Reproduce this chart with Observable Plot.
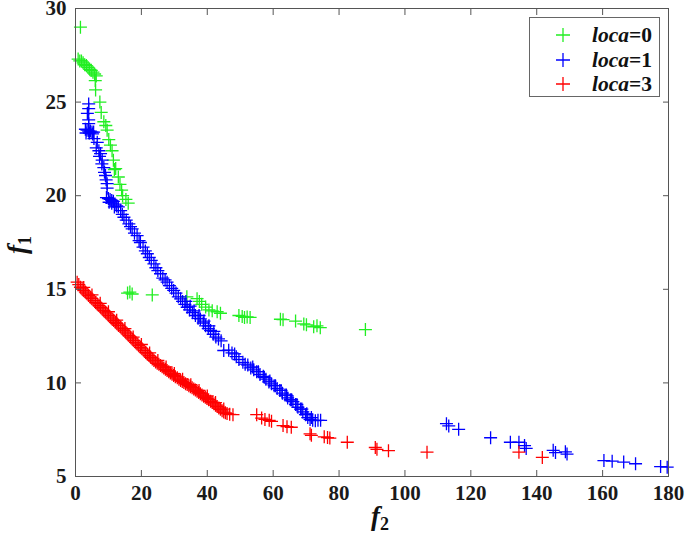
<!DOCTYPE html>
<html>
<head>
<meta charset="utf-8">
<script src="https://cdn.jsdelivr.net/npm/d3@7"></script>
<script src="https://cdn.jsdelivr.net/npm/@observablehq/plot@0.6"></script>
<style>
  body { margin: 0; background: white; }
  #wrap { position: relative; width: 685px; height: 539px; font-family: "Liberation Serif", "Times New Roman", serif; }
  #legend { position: absolute; left: 529px; top: 17px; width: 131px; height: 80px; border: 1px solid #666; background: white; box-sizing: border-box; }
  .row { position: absolute; left: 0; height: 24px; width: 130px; }
  .row svg { position: absolute; left: 26px; top: 5px; }
  .row span { position: absolute; left: 62px; top: 0px; font-size: 21.5px; font-weight: bold; color: #111; line-height: 24px; white-space: nowrap; }
</style>
</head>
<body>
<div id="wrap"></div>
<script>
// Series loca=0 (green)
const loca0_f2 = [1.5,0.8,1.3,1.8,2.3,2.8,3.3,3.8,4.3,4.8,5.3,5.8,6.3,6.0,6.1,7.4,7.8,8.6,9.2,9.6,10.1,10.6,11.1,11.5,11.8,12.2,13.0,13.5,14.0,14.3,15.3,16.0,
  15.8,16.5,17.2,23.3,33.8,36.9,37.6,38.3,39.5,40.5,41.5,43.0,44.0,49.6,50.6,51.3,52.1,53.0,62.2,63.0,66.8,69.3,70.1,72.3,73.3,74.3,88.0];
const loca0_f1 = [29.0,27.3,27.2,27.2,27.1,27.0,26.95,26.85,26.75,26.7,26.6,26.5,26.4,26.15,25.65,25.0,24.45,23.95,23.75,23.5,23.0,22.7,22.4,21.9,21.4,21.45,21.0,20.6,20.3,20.0,19.8,19.6,
  14.8,14.85,14.75,14.7,14.6,14.5,14.35,14.2,14.05,13.9,13.85,13.8,13.72,13.6,13.55,13.5,13.52,13.5,13.4,13.38,13.3,13.15,13.1,13.0,13.05,12.95,12.85];

// Series loca=1 (blue)
const loca1_f2 = [4.0,4.0,3.6,4.0,4.0,
  3.0,3.5,4.0,4.5,5.0,5.5,3.2,4.2,5.2,
  5.6,6.6,6.3,7.1,7.6,7.3,8.1,8.0,8.6,8.8,9.1,9.3,9.6,9.6,
  9.4,10.0,10.5,11.0,11.5,10.2,11.0,12.0,12.5,11.8,13.0,
  13.7,14.2,14.7,15.4,16.2,16.7,17.2,17.9,18.7,19.3,19.7,20.5,21.2,21.8,22.4,23.0,23.8,24.4,25.0,25.8,26.5,27.2,27.8,28.5,29.2,29.8,30.5,31.2,31.9,32.5,33.2,33.9,34.6,35.5,36.4,37.2,37.9,38.8,39.5,40.3,41.0,41.8,42.6,43.4,44.2,45.0,46.5,47.5,48.3,48.8,49.6,50.8,51.5,52.3,53.2,54.1,55.0,56.0,57.0,57.8,58.7,59.5,60.3,61.2,62.0,62.8,63.6,64.4,65.2,66.0,66.8,67.5,68.3,69.0,69.8,70.5,71.2,72.0,72.8,73.6,74.4,
  33.5,34.8,36.0,37.5,39.0,40.5,42.0,53.8,55.5,57.3,59.0,60.7,62.4,64.0,65.6,67.2,68.7,70.2,71.6,
  112.6,113.3,116.3,126.0,132.0,134.6,136.3,136.8,145.0,145.7,148.7,149.2,160.4,162.9,166.4,170.0,177.6,179.6];
const loca1_f1 = [24.9,24.65,24.4,24.05,23.85,
  23.55,23.5,23.45,23.45,23.4,23.4,23.35,23.35,23.3,
  23.05,22.85,22.55,22.4,22.25,22.1,21.9,21.7,21.5,21.25,21.08,20.85,20.64,20.4,
  19.9,19.85,19.8,19.75,19.7,19.65,19.6,19.55,19.45,19.4,19.4,
  19.2,19.0,18.85,18.7,18.5,18.35,18.23,18.0,17.87,17.6,17.5,17.25,17.05,16.9,16.7,16.55,16.36,16.15,16.0,15.83,15.6,15.5,15.38,15.2,15.05,14.94,14.8,14.6,14.49,14.35,14.2,14.04,13.9,13.75,13.6,13.45,13.42,13.2,13.05,12.9,12.8,12.6,12.45,12.35,12.25,11.73,11.75,11.6,11.55,11.4,11.25,11.1,11.0,10.95,10.8,10.7,10.6,10.45,10.35,10.2,10.05,9.95,9.85,9.7,9.6,9.45,9.35,9.2,9.1,9.0,8.85,8.7,8.6,8.45,8.3,8.15,8.05,8.0,7.98,8.0,8.0,
  14.35,14.1,13.85,13.6,13.3,13.05,12.75,10.85,10.6,10.3,10.1,9.85,9.6,9.35,9.1,8.85,8.6,8.35,8.15,
  7.82,7.7,7.52,7.07,6.83,6.83,6.65,6.5,6.4,6.28,6.32,6.2,5.85,5.82,5.77,5.68,5.53,5.5];

// Series loca=3 (red)
const loca3_f2 = [0.5,1.0,1.5,2.0,2.5,3.0,3.5,4.0,4.5,5.0,5.6,6.1,6.6,7.1,7.6,8.1,8.6,9.1,9.6,10.1,10.6,11.1,11.6,12.1,12.6,13.1,13.7,14.2,14.7,15.2,15.7,16.2,16.7,17.2,17.7,18.2,18.7,19.2,19.7,20.2,20.8,21.3,21.8,22.3,22.8,23.3,23.8,24.3,24.8,25.3,25.8,26.3,26.8,27.3,27.8,28.3,28.8,29.3,29.8,30.3,30.9,31.4,31.9,32.4,32.9,33.4,33.9,34.4,34.9,35.4,35.9,36.4,36.9,37.4,37.9,38.4,38.9,39.4,39.9,40.4,41.0,41.5,42.0,42.5,43.0,43.5,44.0,44.5,45.0,45.5,46.0,46.8,47.8,
  2.5,5.0,7.5,10.0,12.5,15.0,17.5,20.0,22.5,25.0,27.5,30.0,32.5,35.0,37.5,40.0,42.5,45.0,
  55.0,56.5,57.5,58.8,59.5,63.0,64.2,65.5,71.2,71.6,75.5,76.5,77.2,82.5,91.0,91.5,95.0,106.7,134.6,141.7];
const loca3_f1 = [15.38,15.25,15.11,15.02,14.93,14.85,14.76,14.67,14.58,14.5,14.4,14.3,14.22,14.13,14.04,13.95,13.86,13.78,13.69,13.6,13.51,13.42,13.33,13.24,13.16,13.07,12.98,12.89,12.8,12.71,12.62,12.53,12.44,12.35,12.26,12.17,12.08,11.99,11.9,11.82,11.72,11.63,11.55,11.46,11.37,11.28,11.2,11.12,11.05,10.99,10.93,10.86,10.8,10.73,10.66,10.6,10.53,10.46,10.4,10.33,10.27,10.2,10.13,10.07,10.02,9.96,9.91,9.85,9.8,9.74,9.68,9.62,9.55,9.49,9.42,9.36,9.29,9.23,9.16,9.1,9.02,8.95,8.88,8.81,8.74,8.66,8.59,8.51,8.44,8.4,8.36,8.32,8.3,
  15.1,14.7,14.25,13.8,13.35,12.9,12.45,12.05,11.6,11.2,10.85,10.5,10.2,9.9,9.6,9.3,8.95,8.6,
  8.3,8.12,8.05,8.0,7.95,7.72,7.66,7.63,7.28,7.2,7.12,7.08,7.05,6.83,6.55,6.45,6.38,6.3,6.3,6.02];

const xTicks = [0,20,40,60,80,100,120,140,160,180];
const yTicks = [5,10,15,20,25,30];
const seriesLabels = ["loca=0","loca=1","loca=3"];
const seriesColors = ["#22ee22","#0000ff","#ff0000"];

const toRows = (xs, ys) => xs.map((x, i) => ({f2: x, f1: ys[i]}));
const sets = [toRows(loca0_f2, loca0_f1), toRows(loca1_f2, loca1_f1), toRows(loca3_f2, loca3_f1)];

const plusSymbol = {
  draw(ctx, size) {
    const r = Math.sqrt(size / Math.PI);
    ctx.moveTo(-r, 0); ctx.lineTo(r, 0);
    ctx.moveTo(0, -r); ctx.lineTo(0, r);
  }
};

const empty = () => "";
const chart = Plot.plot({
  width: 685, height: 539,
  marginLeft: 75, marginRight: 17, marginTop: 8, marginBottom: 63,
  x: {domain: [0, 180]},
  y: {domain: [5, 30]},
  style: {fontFamily: "'Liberation Serif', 'Times New Roman', serif", fontSize: "21px", fontWeight: "bold", color: "#1a1a1a", background: "white", overflow: "visible"},
  marks: [
    ...sets.map((d, i) => Plot.dot(d, {x: "f2", y: "f1", symbol: plusSymbol, r: 6.5, stroke: seriesColors[i], strokeWidth: 1.3, fill: "none"})),
    Plot.axisX({anchor: "bottom", ticks: xTicks, tickSize: 0, tickPadding: 9, label: null, fontSize: 21}),
    Plot.axisX({anchor: "bottom", ticks: xTicks, tickSize: -6, tickFormat: empty, label: null, stroke: "#555"}),
    Plot.axisX({anchor: "top", ticks: xTicks, tickSize: -6, tickFormat: empty, label: null, stroke: "#555"}),
    Plot.axisY({anchor: "left", ticks: yTicks, tickSize: 0, tickPadding: 9, label: null, fontSize: 21}),
    Plot.axisY({anchor: "left", ticks: yTicks, tickSize: -6, tickFormat: empty, label: null, stroke: "#555"}),
    Plot.axisY({anchor: "right", ticks: yTicks, tickSize: -6, tickFormat: empty, label: null, stroke: "#555"}),
    Plot.frame({stroke: "#555", strokeWidth: 1})
  ]
});

const svg = d3.select(chart);
// x axis label f2
const xl = svg.append("text").attr("x", 380).attr("y", 525).attr("text-anchor", "middle")
  .attr("font-family", "'Liberation Serif', serif").attr("font-weight", "bold").attr("fill", "#111");
xl.append("tspan").attr("font-style", "italic").attr("font-size", 27).text("f");
xl.append("tspan").attr("font-size", 18).attr("dy", 5).text("2");
// y axis label f1
const yl = svg.append("text").attr("transform", "translate(26,245) rotate(-90)").attr("text-anchor", "middle")
  .attr("font-family", "'Liberation Serif', serif").attr("font-weight", "bold").attr("fill", "#111");
yl.append("tspan").attr("font-style", "italic").attr("font-size", 27).text("f");
yl.append("tspan").attr("font-size", 18).attr("dy", 5).text("1");

const wrap = document.getElementById("wrap");
wrap.appendChild(chart);

const legend = document.createElement("div");
legend.id = "legend";
seriesLabels.forEach((lab, i) => {
  const row = document.createElement("div");
  row.className = "row";
  row.style.top = (5 + i * 24.5) + "px";
  const [name, val] = lab.split("=");
  row.innerHTML = `<svg width="14" height="14"><path d="M0,7H14M7,0V14" stroke="${seriesColors[i]}" stroke-width="1.3" fill="none"/></svg><span><i>${name}</i>=${val}</span>`;
  legend.appendChild(row);
});
wrap.appendChild(legend);
</script>
</body>
</html>
